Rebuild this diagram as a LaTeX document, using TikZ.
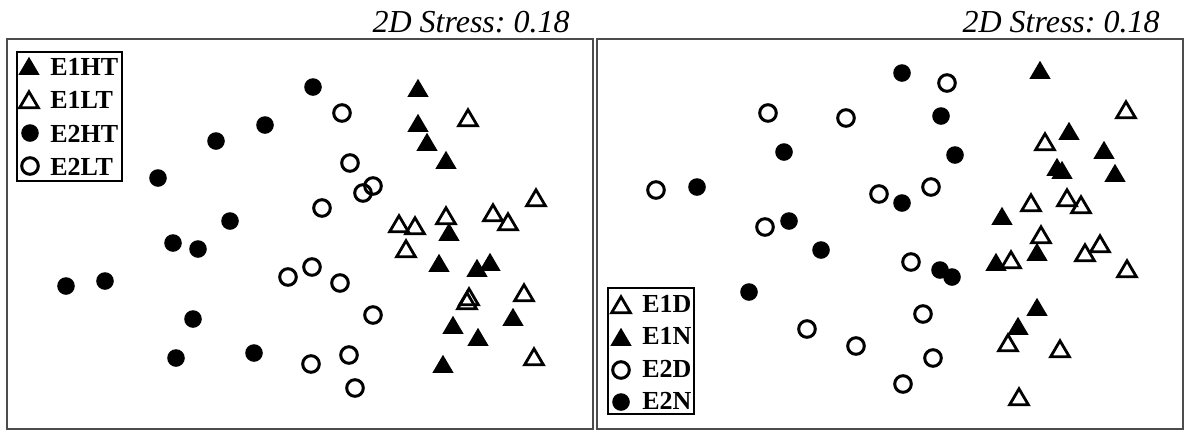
\documentclass[tikz,border=0pt]{standalone}
\usepackage{fontspec}
\setmainfont{Liberation Serif}
\tikzset{
  ftri/.pic={\fill (-5.3pt,-4.4pt) -- (5.3pt,-4.4pt) -- (0,4.6pt) -- cycle;},
  otri/.pic={\draw[line width=1.4pt,line join=miter] (-4.7pt,-3.9pt) -- (4.7pt,-3.9pt) -- (0,4.1pt) -- cycle;},
  fdot/.pic={\fill (0,0) circle (4.4pt);},
  odot/.pic={\draw[line width=1.5pt] (0,0) circle (4.15pt);},
  panel/.style={line width=1pt,black!70},
  keytext/.style={font=\fontsize{13}{13}\selectfont\bfseries,anchor=base west,inner sep=0pt},
  stresstext/.style={font=\fontsize{16}{16}\selectfont\itshape,anchor=base east,inner sep=0pt}
}
\begin{document}
\begin{tikzpicture}[x=0.5pt,y=-0.5pt]
\useasboundingbox (0,0) rectangle (1184,430);
\draw[panel] (7,39) rectangle (593,429);
\draw[panel] (597,39) rectangle (1183,429);
\node[stresstext] (stressL) at (570,32) {2D Stress:\ 0.18};
\node[stresstext] (stressR) at (1160,32) {2D Stress:\ 0.18};
% left panel
\foreach \x/\y in {418/88,418/123,427/142,446/160,449/232,439/263,477/268,490/262,513/317,453/325,478/337,443/364}
  \pic at (\x,\y) {ftri};
\foreach \x/\y in {468/118,536/198,399/224,415/226,446/216,493/213,508/222,406/249,469/297,467/301,524/293,534/357}
  \pic at (\x,\y) {otri};
\foreach \x/\y in {313/87,265/125,216/141,158/178,230/221,173/243,198/249,66/286,105/281,193/319,176/358,254/353}
  \pic at (\x,\y) {fdot};
\foreach \x/\y in {342/113,350/163,363/193,373/186,322/208,288/277,312/267,340/283,373/315,349/355,311/364,355/388}
  \pic at (\x,\y) {odot};
% left key
\draw[line width=1pt] (17,52) rectangle (122,181);
\pic at (29,66) {ftri};  \node[keytext] (kE1HT) at (50,75) {E1HT};
\pic at (29,100) {otri}; \node[keytext] (kE1LT) at (50,108) {E1LT};
\pic at (30,133) {fdot}; \node[keytext] (kE2HT) at (50,142) {E2HT};
\pic at (30,166) {odot}; \node[keytext] (kE2LT) at (50,175) {E2LT};
% right panel
\foreach \x/\y in {1040/70,1069/131,1104/150,1057/167,1062/170,1115/173,1002/216,996/262,1037/252,1037/307,1018/326}
  \pic at (\x,\y) {ftri};
\foreach \x/\y in {1126/110,1045/142,1031/203,1067/198,1081/205,1041/235,1011/260,1085/253,1100/244,1127/269,1008/343,1060/349,1019/397}
  \pic at (\x,\y) {otri};
\foreach \x/\y in {784/152,697/187,789/221,902/73,941/116,955/155,902/203,821/250,749/292,940/270,952/277}
  \pic at (\x,\y) {fdot};
\foreach \x/\y in {768/113,846/118,656/190,879/194,947/83,931/187,765/227,807/329,856/346,911/262,923/314,933/358,903/384}
  \pic at (\x,\y) {odot};
% right key
\draw[line width=1pt] (608,288) rectangle (694,414);
\pic at (621,305) {otri}; \node[keytext] (kE1D) at (642,312) {E1D};
\pic at (621,337) {ftri}; \node[keytext] (kE1N) at (642,344) {E1N};
\pic at (621,370) {odot}; \node[keytext] (kE2D) at (642,377) {E2D};
\pic at (621,402) {fdot}; \node[keytext] (kE2N) at (642,409) {E2N};
\end{tikzpicture}
\end{document}
